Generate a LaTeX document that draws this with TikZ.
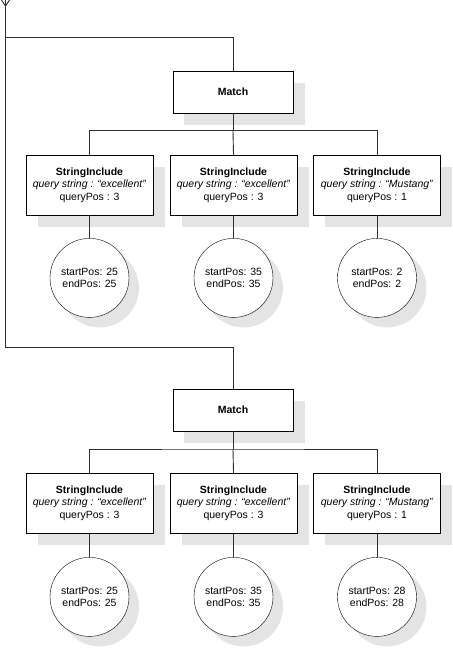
\documentclass[tikz,border=0pt]{standalone}
\usepackage{fontspec}
\setmainfont{Liberation Sans}
\usetikzlibrary{positioning,arrows.meta,shadows}
\definecolor{shadowgrey}{HTML}{E4E4E4}
\definecolor{linegrey}{HTML}{2E2E2E}

\begin{document}
\begin{tikzpicture}[x=1pt, y=-1pt, font=\fontsize{10.5}{12.5}\selectfont,
    matchbox/.style={draw, fill=white, minimum width=120.6pt, minimum height=42pt, inner sep=0pt,
      drop shadow={shadow xshift=11.5pt, shadow yshift=-12pt, fill=shadowgrey, opacity=1}},
    sibox/.style={draw, fill=white, minimum width=127pt, minimum height=60pt, inner sep=0pt, align=center,
      drop shadow={shadow xshift=11.5pt, shadow yshift=-12pt, fill=shadowgrey, opacity=1}},
    posnode/.style={draw, fill=white, circle, minimum size=79pt, inner sep=0pt, align=center,
      drop shadow={shadow xshift=10pt, shadow yshift=-10pt, fill=shadowgrey, opacity=1}},
    wire/.style={draw, linegrey, line width=0.9pt}]
  \useasboundingbox (0,0) rectangle (453,649);

  % first match
  \node[matchbox] (m1) at (233,92) {\textbf{Match}};
  \node[sibox] (s11) at (89.5,185) {\textbf{StringInclude}\\ \textit{query string : “excellent”}\\ queryPos : 3};
  \node[sibox] (s12) at (233.5,185) {\textbf{StringInclude}\\ \textit{query string : “excellent”}\\ queryPos : 3};
  \node[sibox] (s13) at (377,185) {\textbf{StringInclude}\\ \textit{query string : “Mustang”}\\ queryPos : 1};
  \node[posnode, below=23pt of s11] (c11) {startPos: 25\\ endPos: 25};
  \node[posnode, below=23pt of s12] (c12) {startPos: 35\\ endPos: 35};
  \node[posnode, below=23pt of s13] (c13) {startPos: 2\\ endPos: 2};

  % second match
  \node[matchbox] (m2) at (233,410) {\textbf{Match}};
  \node[sibox] (s21) at (89.5,503) {\textbf{StringInclude}\\ \textit{query string : “excellent”}\\ queryPos : 3};
  \node[sibox] (s22) at (233.5,503) {\textbf{StringInclude}\\ \textit{query string : “excellent”}\\ queryPos : 3};
  \node[sibox] (s23) at (377,503) {\textbf{StringInclude}\\ \textit{query string : “Mustang”}\\ queryPos : 1};
  \node[posnode, below=24pt of s21] (c21) {startPos: 25\\ endPos: 25};
  \node[posnode, below=24pt of s22] (c22) {startPos: 35\\ endPos: 35};
  \node[posnode, below=24pt of s23] (c23) {startPos: 28\\ endPos: 28};

  % left feed line
  \coordinate (edge) at (5.5,0);
  \coordinate (tip) at (5.5,7);
  \coordinate (b1) at (5.5,37);
  \coordinate (b2) at (5.5,347);
  \coordinate (j1) at (233,130.5);
  \coordinate (j2) at (233,449);
  \draw[wire, -{Straight Barb[length=7pt, width=9pt]}] (edge) -- (tip);
  \draw[wire] (tip) -- (b2) -| (m2.north);
  \draw[wire] (b1) -| (m1.north);

  % trees
  \draw[wire] (m1.south) -- (j1);
  \draw[wire] (s11.north) |- (j1) -| (s13.north);
  \draw[wire] (j1) -- (s12.north);
  \draw[wire] (m2.south) -- (j2);
  \draw[wire] (s21.north) |- (j2) -| (s23.north);
  \draw[wire] (j2) -- (s22.north);
  \draw[wire] (s11) -- (c11);
  \draw[wire] (s12) -- (c12);
  \draw[wire] (s13) -- (c13);
  \draw[wire] (s21) -- (c21);
  \draw[wire] (s22) -- (c22);
  \draw[wire] (s23) -- (c23);
\end{tikzpicture}
\end{document}
